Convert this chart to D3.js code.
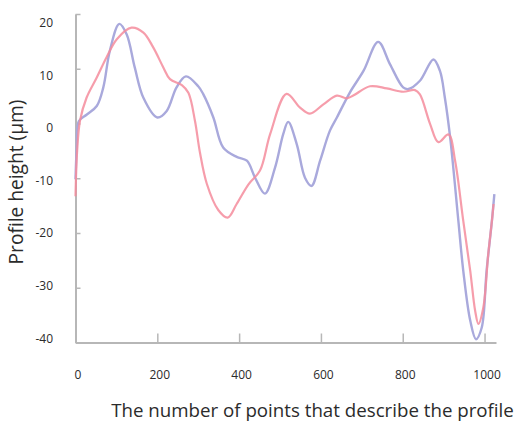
<!DOCTYPE html>
<html>
<head>
<meta charset="utf-8">
<script src="https://cdn.jsdelivr.net/npm/d3@7/dist/d3.min.js"></script>
<style>
  html, body { margin: 0; padding: 0; background: #fff; }
  svg { display: block; }
  text { font-family: "Open Sans", "Noto Sans", sans-serif; fill: #2b2b2b; }
</style>
</head>
<body>
<svg id="chart" width="516" height="422"></svg>
<script>
// Profile samples: point index along the trace and height in µm
const blueX = [0, 3, 8, 27, 52, 68, 84, 107, 125, 145, 166, 200, 223, 247, 270, 300, 312, 337, 361, 394, 419, 439, 463, 488, 508, 520, 541, 561, 577, 598, 622, 639, 671, 704, 740, 769, 801, 814, 842, 875, 891, 903, 916, 936, 948, 965, 979, 993, 1005, 1018, 1024];
const blueY = [-10.2, -4.5, 0.4, 1.6, 3.2, 6.6, 13.3, 18.2, 16.3, 10.2, 4.7, 1.1, 2.3, 6.6, 8.6, 6.8, 5.4, 1.1, -4.4, -6.1, -6.8, -9.9, -12.8, -8.0, -1.9, 0.3, -3.8, -9.9, -11.4, -6.8, -1.3, 1.1, 5.7, 9.6, 14.9, 10.8, 6.6, 6.3, 7.8, 11.7, 9.6, 4.7, -2.6, -17.8, -26.9, -36.0, -39.4, -37.3, -26.9, -17.8, -12.9];

const redX = [0, 4, 11, 27, 52, 76, 101, 137, 166, 190, 215, 231, 260, 276, 292, 304, 321, 349, 372, 394, 423, 451, 476, 516, 549, 573, 606, 639, 663, 679, 720, 761, 801, 830, 842, 867, 887, 912, 928, 948, 965, 977, 985, 997, 1009, 1018, 1022];
const redY = [-13.3, -5.0, 0.5, 4.7, 8.4, 12.1, 15.4, 17.5, 16.6, 13.9, 10.2, 8.1, 7.0, 5.6, 0.5, -5.2, -11.0, -15.8, -17.2, -14.7, -11.1, -8.6, -1.9, 5.4, 2.9, 1.8, 3.5, 5.1, 4.6, 5.1, 6.8, 6.4, 5.8, 6.1, 5.3, -0.1, -3.4, -2.0, -6.8, -17.8, -26.9, -34.2, -36.6, -33.6, -23.9, -17.8, -14.7];

const xTicks = [0, 200, 400, 600, 800, 1000];
const yTicks = [-40, -30, -20, -10, 0, 10, 20];

const xTitle = "The number of points that describe the profile";
const yTitle = "Profile height (\u00b5m)";

const svg = d3.select("#chart");

const x = d3.scaleLinear().domain([0, 1028]).range([75.5, 496]);
const y = d3.scaleLinear().domain([-40, 20]).range([342.5, 14]);
// the value labels sit in their own slightly tighter column
const yLabel = d3.scaleLinear().domain([-40, 20]).range([338.3, 22.7]);

const axisColor = "#b7b7b7";
const plain = d => String(d);   // plain hyphen minus, no thousands separator

// y axis: line and inward ticks
const gy = svg.append("g").attr("transform", `translate(${x(0)},0)`)
  .call(d3.axisLeft(y).tickValues(yTicks).tickSizeInner(-5).tickSizeOuter(0).tickFormat(""));
gy.select(".domain").attr("stroke", axisColor).attr("stroke-width", 2);
gy.selectAll(".tick line").attr("stroke", axisColor).attr("stroke-width", 1.5);

const gyl = svg.append("g").attr("transform", `translate(${x(0)},0)`)
  .call(d3.axisLeft(yLabel).tickValues(yTicks).tickSize(0).tickPadding(22.5).tickFormat(plain));
gyl.select(".domain").remove();
gyl.selectAll("text").attr("font-size", 12).attr("font-family", "Open Sans").attr("fill", "#2b2b2b");

// x axis: line and upward ticks
const gx = svg.append("g").attr("transform", `translate(0,${y(-40)})`)
  .call(d3.axisBottom(x).tickValues(xTicks).tickSizeInner(-9).tickSizeOuter(0).tickFormat(""));
gx.select(".domain").attr("stroke", axisColor).attr("stroke-width", 2);
gx.selectAll(".tick line").attr("stroke", axisColor).attr("stroke-width", 1.5);

const gxl = svg.append("g").attr("transform", `translate(2,${y(-40)})`)
  .call(d3.axisBottom(x).tickValues(xTicks).tickSize(0).tickPadding(28).tickFormat(plain));
gxl.select(".domain").remove();
gxl.selectAll("text").attr("font-size", 12).attr("font-family", "Open Sans").attr("fill", "#2b2b2b");

// profile traces
const line = d3.line()
  .x(d => x(d[0]))
  .y(d => y(d[1]))
  .curve(d3.curveCatmullRom.alpha(0.5));

const blue = blueX.map((v, i) => [v, blueY[i]]);
const red = redX.map((v, i) => [v, redY[i]]);

svg.append("path").datum(blue)
  .attr("d", line)
  .attr("fill", "none")
  .attr("stroke", "#a9a9dc")
  .attr("stroke-width", 2.4)
  .attr("stroke-linejoin", "round");

svg.append("path").datum(red)
  .attr("d", line)
  .attr("fill", "none")
  .attr("stroke", "#f48c9c")
  .attr("stroke-opacity", 0.85)
  .attr("stroke-width", 2.2)
  .attr("stroke-linejoin", "round");

// axis titles, sized to their text runs
function fitText(sel, width) {
  const len = sel.node().getComputedTextLength();
  const fs = parseFloat(sel.attr("font-size"));
  sel.attr("font-size", (fs * width / len).toFixed(2));
}

const xt = svg.append("text")
  .attr("x", 312.5).attr("y", 417)
  .attr("text-anchor", "middle")
  .attr("font-size", 16)
  .attr("fill", "#1a1a1a")
  .text(xTitle);
fitText(xt, 403);

const yt = svg.append("text")
  .attr("transform", "translate(23,182) rotate(-90)")
  .attr("text-anchor", "middle")
  .attr("font-size", 16)
  .attr("fill", "#1a1a1a")
  .text(yTitle);
fitText(yt, 165);
</script>
</body>
</html>
